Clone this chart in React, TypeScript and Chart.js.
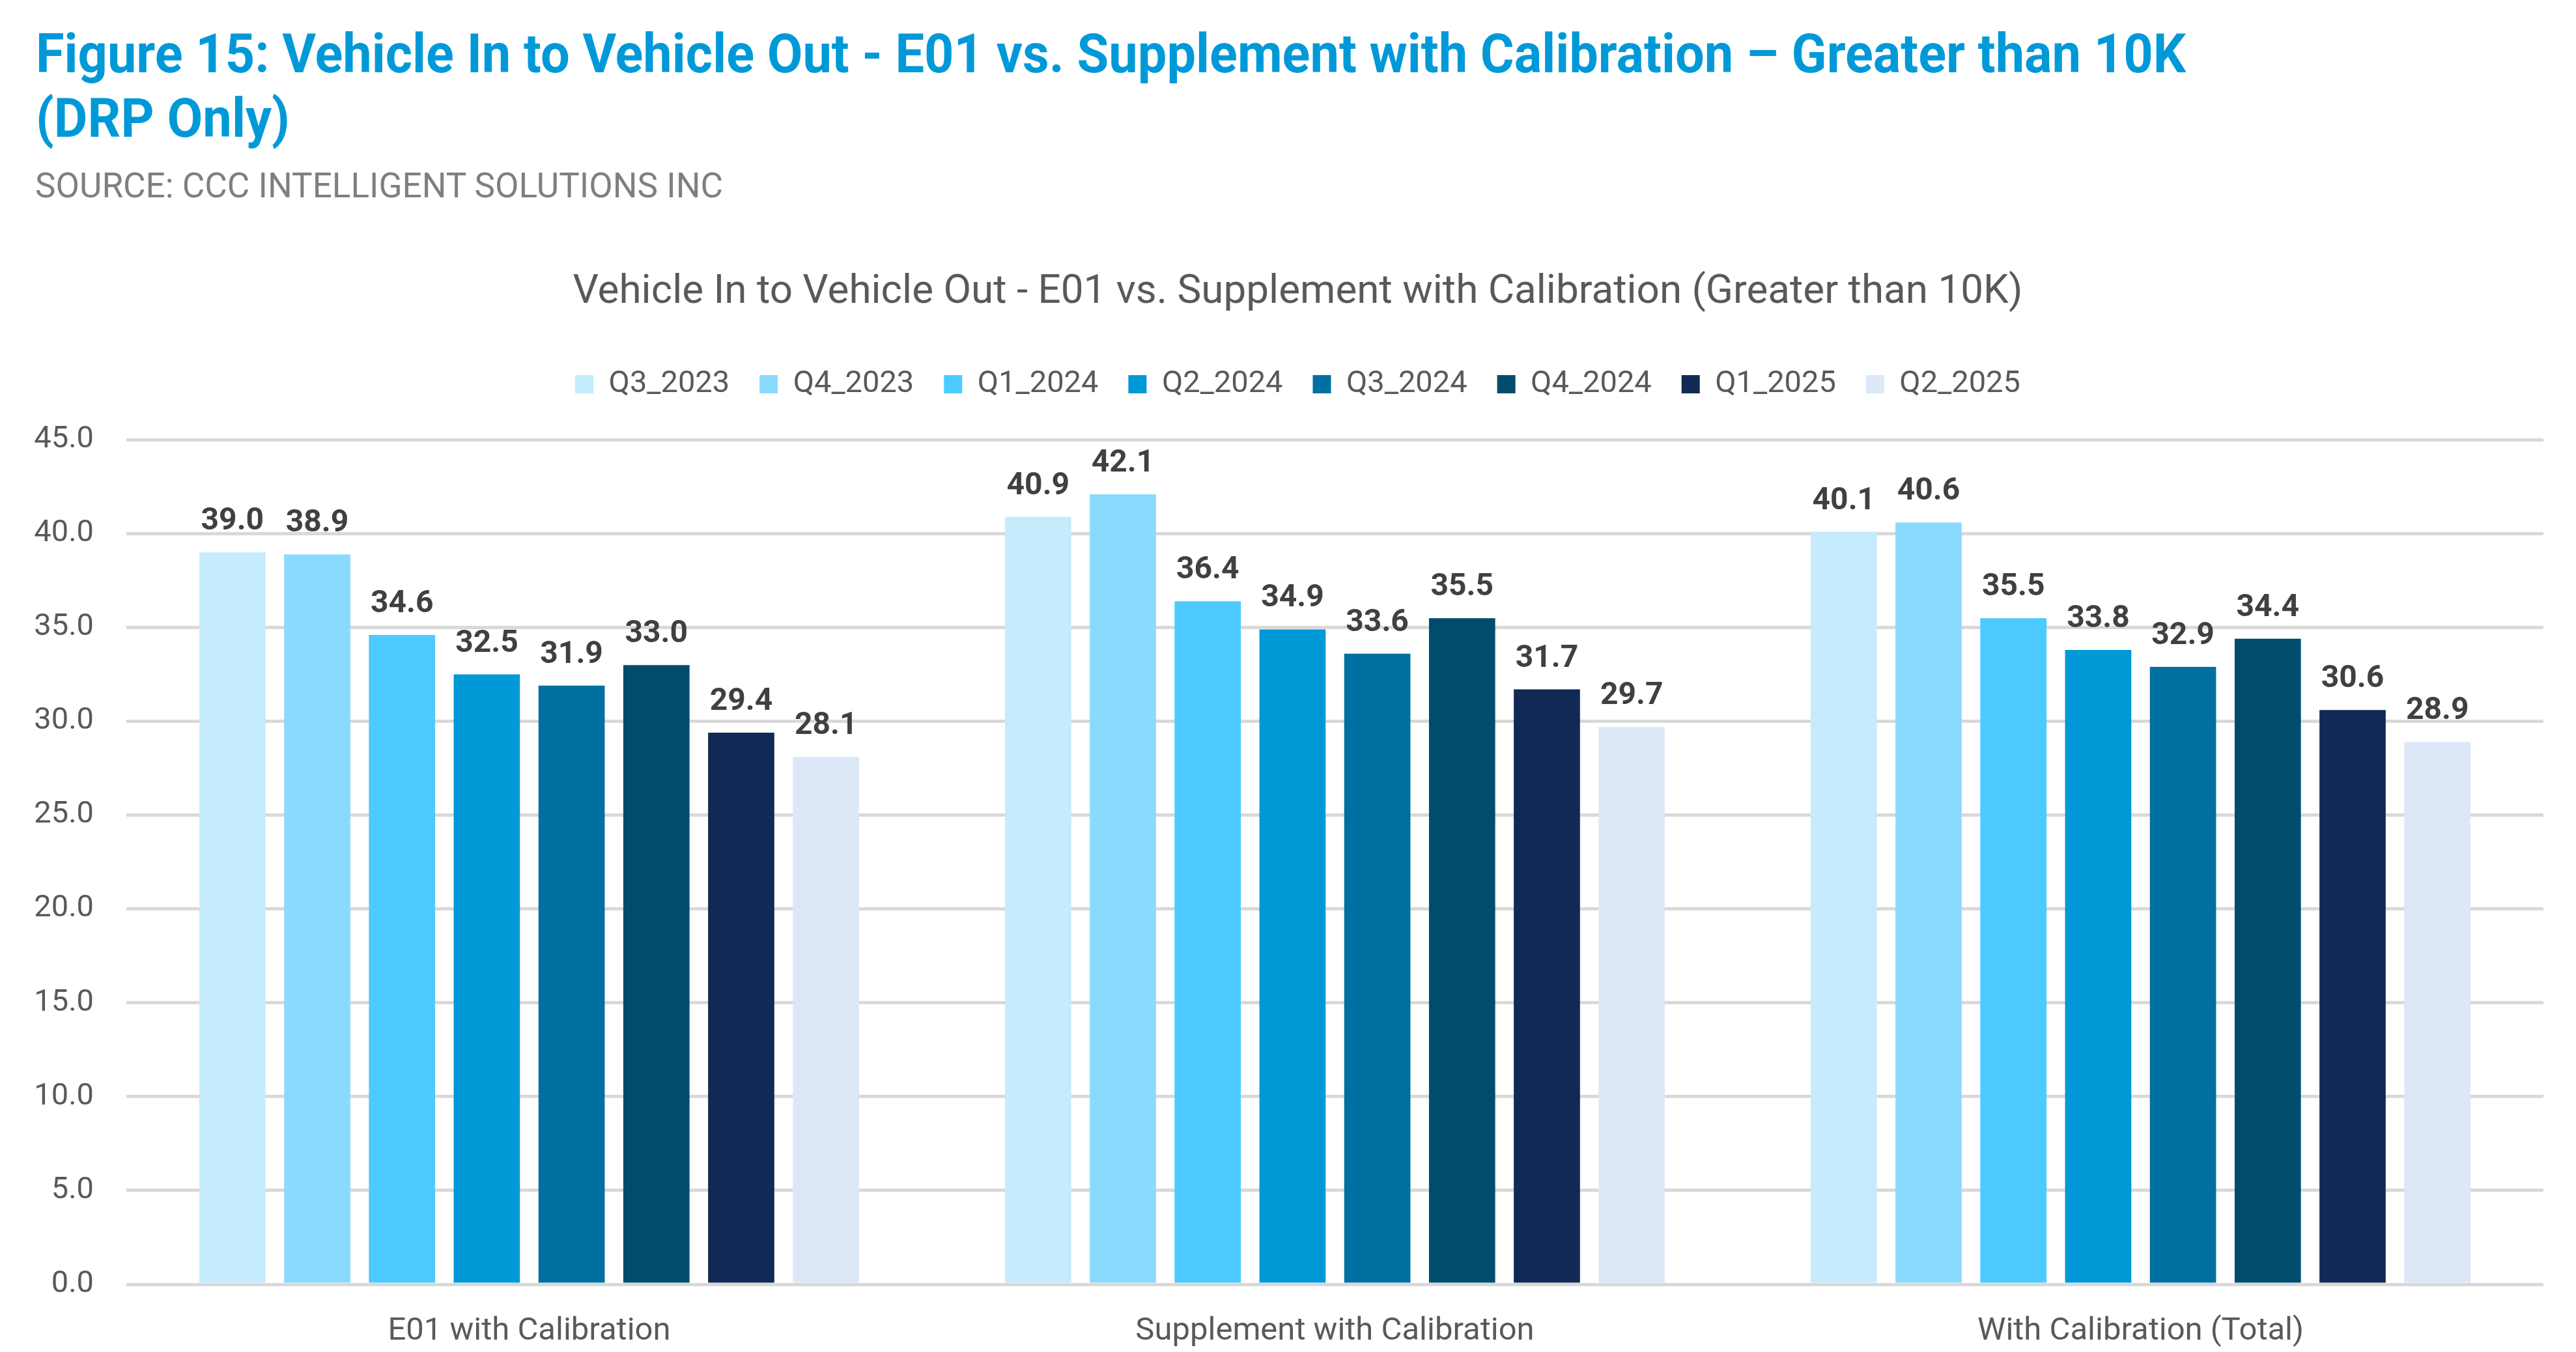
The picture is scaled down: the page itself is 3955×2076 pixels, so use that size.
import React, { useEffect, useLayoutEffect, useRef } from "react";
import { Chart, registerables } from "chart.js";

Chart.register(...registerables);

// ---------- data ----------
const categories = ["E01 with Calibration", "Supplement with Calibration", "With Calibration (Total)"];
const seriesNames = ["Q3_2023", "Q4_2023", "Q1_2024", "Q2_2024", "Q3_2024", "Q4_2024", "Q1_2025", "Q2_2025"];
const q3_2023 = [39.0, 40.9, 40.1];
const q4_2023 = [38.9, 42.1, 40.6];
const q1_2024 = [34.6, 36.4, 35.5];
const q2_2024 = [32.5, 34.9, 33.8];
const q3_2024 = [31.9, 33.6, 32.9];
const q4_2024 = [33.0, 35.5, 34.4];
const q1_2025 = [29.4, 31.7, 30.6];
const q2_2025 = [28.1, 29.7, 28.9];
const seriesValues = [q3_2023, q4_2023, q1_2024, q2_2024, q3_2024, q4_2024, q1_2025, q2_2025];
const seriesColors = ["#C5EBFC", "#8ADAFE", "#4DCAFF", "#0099D8", "#0070A0", "#004C6C", "#102A55", "#DCE7F8"];
const yMin = 0;
const yMax = 45;
const yStep = 5;

const figureTitleLine1 = "Figure 15: Vehicle In to Vehicle Out - E01 vs. Supplement with Calibration \u2013 Greater than 10K";
const figureTitleLine2 = "(DRP Only)";
const sourceText = "SOURCE: CCC INTELLIGENT SOLUTIONS INC";
const chartTitle = "Vehicle In to Vehicle Out - E01 vs. Supplement with Calibration (Greater than 10K)";

const W = 3955;
const H = 2076;
const FONT = "Roboto, 'Noto Sans', sans-serif";

function FitText(props: {
  text: string; left: number; top: number; size: number; weight: number; color: string; targetWidth: number;
}) {
  const ref = useRef<HTMLDivElement | null>(null);
  useLayoutEffect(() => {
    const el = ref.current;
    if (!el) return;
    const natural = el.scrollWidth;
    const s = props.targetWidth / natural;
    el.style.transform = `scaleX(${s})`;
  }, [props.text, props.targetWidth]);
  return (
    <div
      ref={ref}
      style={{
        position: "absolute",
        left: props.left,
        top: props.top,
        fontFamily: FONT,
        fontSize: props.size,
        fontWeight: props.weight,
        color: props.color,
        lineHeight: 1,
        whiteSpace: "nowrap",
        transformOrigin: "left top",
        display: "inline-block",
      }}
    >
      {props.text}
    </div>
  );
}

const valueLabelPlugin = {
  id: "valueLabels",
  afterDatasetsDraw(chart: any) {
    const ctx = chart.ctx;
    ctx.save();
    ctx.font = `bold 48px ${FONT}`;
    ctx.fillStyle = "#404040";
    ctx.textAlign = "center";
    ctx.textBaseline = "middle";
    chart.data.datasets.forEach((ds: any, di: number) => {
      const meta = chart.getDatasetMeta(di);
      meta.data.forEach((el: any, i: number) => {
        const v = ds.data[i];
        ctx.fillText(Number(v).toFixed(1), el.x, el.y - 47);
      });
    });
    ctx.restore();
  },
};

// adds space below the legend row
const legendGapPlugin = {
  id: "legendGap",
  beforeLayout(chart: any) {
    const lg = chart.legend;
    if (lg && !lg.__gapPatched) {
      const orig = lg.fit;
      lg.fit = function () {
        orig.call(this);
        this.height += 52;
      };
      lg.__gapPatched = true;
    }
  },
};

export default function App() {
  const canvasRef = useRef<HTMLCanvasElement | null>(null);

  useEffect(() => {
    const canvas = canvasRef.current;
    if (!canvas) return;
    const chart = new Chart(canvas, {
      type: "bar",
      data: {
        labels: categories,
        datasets: seriesNames.map((name, i) => ({
          label: name,
          data: seriesValues[i],
          backgroundColor: seriesColors[i],
          borderWidth: 0,
          categoryPercentage: 0.842,
          barPercentage: 0.781,
          yAxisID: "y",
        })),
      },
      options: {
        animation: false,
        responsive: false,
        devicePixelRatio: 1,
        layout: { padding: { left: 30, right: 0, top: 0, bottom: 0 } },
        plugins: {
          title: {
            display: true,
            text: chartTitle,
            color: "#595959",
            font: { family: FONT, size: 62, weight: "normal" },
            padding: { top: 412, bottom: 34 },
          },
          legend: {
            display: true,
            position: "top",
            labels: {
              color: "#595959",
              font: { family: FONT, size: 47 },
              boxWidth: 28,
              boxHeight: 28,
              padding: 46,
            },
          },
          tooltip: { enabled: false },
        },
        scales: {
          x: {
            afterFit(scale: any) {
              scale.height = 104;
            },
            grid: { display: false, drawTicks: false },
            border: { display: false },
            ticks: {
              color: "#595959",
              font: { family: FONT, size: 49 },
              padding: 43,
              maxRotation: 0,
            },
          },
          y: {
            position: "left",
            min: yMin,
            max: yMax,
            afterFit(scale: any) {
              scale.width = 164;
            },
            grid: { color: "#D9D9D9", lineWidth: 5, drawTicks: false },
            border: { display: false },
            ticks: {
              stepSize: yStep,
              color: "#595959",
              font: { family: FONT, size: 47 },
              padding: 50,
              callback: (v: any) => Number(v).toFixed(1),
            },
          },
          yRightSpace: {
            type: "linear",
            position: "right",
            display: true,
            afterFit(scale: any) {
              scale.width = 50;
            },
            grid: { display: false, drawTicks: false },
            border: { display: false },
            ticks: { display: false },
          },
        },
      },
      plugins: [valueLabelPlugin, legendGapPlugin],
    });
    return () => chart.destroy();
  }, []);

  return (
    <div style={{ position: "fixed", left: 0, top: 0, width: W, height: H, background: "#FFFFFF", overflow: "hidden" }}>
      <canvas ref={canvasRef} width={W} height={H} style={{ position: "absolute", left: 0, top: 0, width: W, height: H }} />
      <FitText text={figureTitleLine1} left={55} top={41} size={83} weight={700} color="#0099D8" targetWidth={3301} />
      <FitText text={figureTitleLine2} left={55} top={140} size={83} weight={700} color="#0099D8" targetWidth={390} />
      <FitText text={sourceText} left={54} top={259} size={53} weight={400} color="#7F7F7F" targetWidth={1056} />
    </div>
  );
}
